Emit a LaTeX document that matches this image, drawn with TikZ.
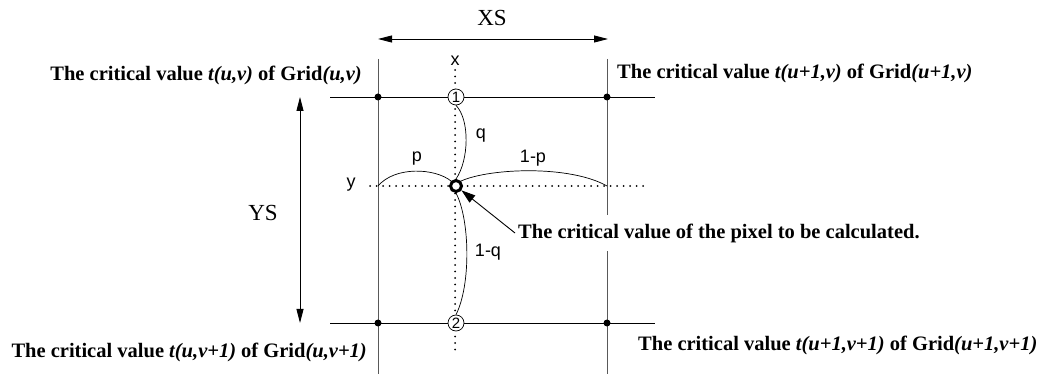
\documentclass[tikz,border=0pt]{standalone}
\usepackage{fontspec}
\setmainfont{Liberation Serif}
\newfontfamily\labelsans{Liberation Sans}
\usetikzlibrary{arrows.meta}
\begin{document}
\begin{tikzpicture}[x=1pt,y=-1pt,
  hline/.style={line width=0.9pt, draw=black},
  vline/.style={line width=0.9pt, draw=black!65},
  dotline/.style={line width=2pt, dash pattern=on 0pt off 6.5pt, line cap=round},
  arcline/.style={line width=0.7pt},
  knot/.style={circle, fill=black, inner sep=0pt, minimum size=7pt},
  numcirc/.style={circle, draw, line width=0.7pt, fill=white, inner sep=0pt, minimum size=16pt, font=\labelsans\fontsize{15}{15}\selectfont},
  pixcirc/.style={circle, draw, line width=3pt, fill=white, inner sep=0pt, minimum size=11pt},
  small/.style={font=\labelsans\fontsize{18}{18}\selectfont, inner sep=1pt},
  captxt/.style={font=\bfseries\fontsize{20.5}{22}\selectfont, inner sep=1pt},
  dimtxt/.style={font=\fontsize{23}{24}\selectfont, inner sep=1pt},
  dimarrow/.style={line width=0.9pt, {Triangle[length=14pt,width=7pt]}-{Triangle[length=14pt,width=7pt]}},
  ptrarrow/.style={line width=0.9pt, -{Triangle[length=14pt,width=9pt]}}
]
\useasboundingbox (0,0) rectangle (1045,374);

% grid lines
\coordinate (tl0) at (330,97);  \coordinate (tr0) at (655,97);
\coordinate (bl0) at (330,323); \coordinate (br0) at (655,323);
\coordinate (lv0) at (378,59);  \coordinate (lv1) at (378,374);
\coordinate (rv0) at (607,59);  \coordinate (rv1) at (607,374);
\draw[vline] (lv0) -- (lv1);
\draw[vline] (rv0) -- (rv1);
\draw[hline] (tl0) -- (tr0);
\draw[hline] (bl0) -- (br0);

% dotted axes
\node[small] (xl) at (455,61) {x};
\node[small] (yl) at (351,185) {y};
\coordinate (xend) at (455,352);
\coordinate (ystart) at (370,186);
\coordinate (yend) at (648,186);
\draw[dotline] (455,70) -- (xend);
\draw[dotline] (ystart) -- (yend);

% knots
\node[knot] (k1) at (378,97) {};
\node[knot] (k2) at (607,97) {};
\node[knot] (k3) at (378,323) {};
\node[knot] (k4) at (607,323) {};

% pixel and numbered points
\coordinate (pl) at (378,186);
\coordinate (pr) at (607,186);
\node[pixcirc] (pix) at (456,186) {};
\node[numcirc] (n1) at (456,97) {1};
\node[numcirc] (n2) at (456,323) {2};

% arcs
\draw[arcline] (pl) .. controls (395,166) and (435,168) .. (pix.north west);
\draw[arcline] (pix.north east) .. controls (490,168) and (570,165) .. (pr);
\draw[arcline] (n1.south) .. controls (470,120) and (469,160) .. (pix.north);
\draw[arcline] (pix.south) .. controls (470,220) and (471,285) .. (n2.north);

\node[small] (lp) at (417,159) {p};
\node[small] (l1p) at (533,158) {1-p};
\node[small] (lq) at (481,136) {q};
\node[small] (l1q) at (488,252) {1-q};

% dimension arrows
\coordinate (xs0) at (378,39); \coordinate (xs1) at (608,39);
\draw[dimarrow] (xs0) -- (xs1);
\node[dimtxt] (xs) at (492,18) {XS};
\coordinate (ys0) at (300,97); \coordinate (ys1) at (300,323);
\draw[dimarrow] (ys0) -- (ys1);
\node[dimtxt] (ys) at (263,213) {YS};

% captions
\node[captxt, anchor=east] (ctl) at (363,75) {The critical value \textit{t(u,v)} of Grid\textit{(u,v)}};
\node[captxt, anchor=west] (ctr) at (616,73) {The critical value \textit{t(u+1,v)} of Grid\textit{(u+1,v)}};
\node[captxt, anchor=east] (cbl) at (368,352) {The critical value \textit{t(u,v+1)} of Grid\textit{(u,v+1)}};
\node[captxt, anchor=west] (cbr) at (637,345) {The critical value \textit{t(u+1,v+1)} of Grid\textit{(u+1,v+1)}};
\node[captxt, anchor=west, fill=white, inner xsep=3pt, inner ysep=9pt] (cpx) at (515,233) {The critical value of the pixel to be calculated.};
\draw[ptrarrow] (cpx.west) -- (pix);
\end{tikzpicture}
\end{document}
